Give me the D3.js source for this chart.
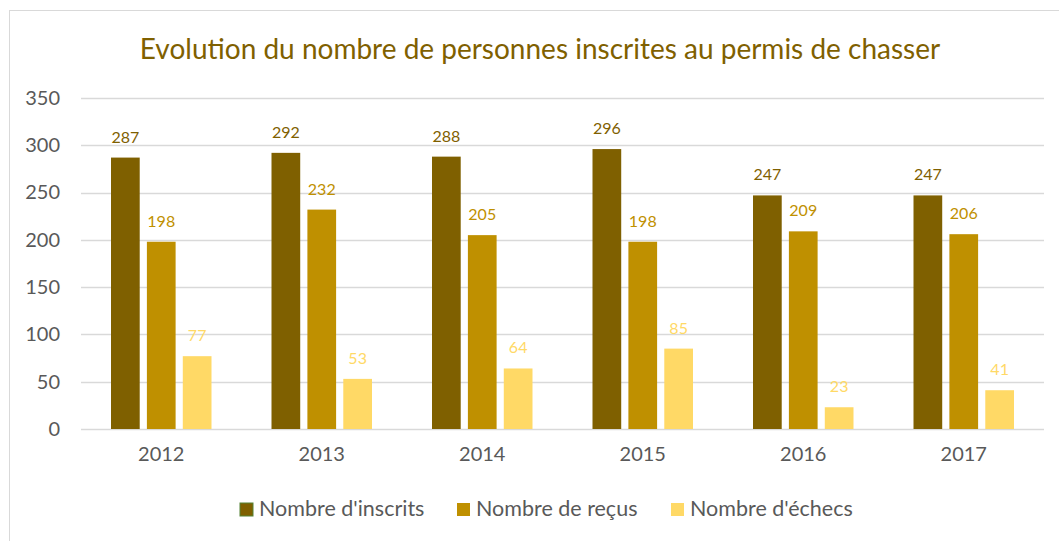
<!DOCTYPE html>
<html lang="fr">
<head>
<meta charset="utf-8">
<title>Permis de chasser</title>
<script src="https://cdn.jsdelivr.net/npm/d3@7"></script>
<style>
  body { margin: 0; background: #fff; }
  text { font-family: Lato, "Open Sans", sans-serif; }
</style>
</head>
<body>
<script>
// data
var years = ["2012", "2013", "2014", "2015", "2016", "2017"];
var series = ["Nombre d'inscrits", "Nombre de reçus", "Nombre d'échecs"];
var inscrits = [287, 292, 288, 296, 247, 247];
var recus = [198, 232, 205, 198, 209, 206];
var echecs = [77, 53, 64, 85, 23, 41];
var yTicks = [0, 50, 100, 150, 200, 250, 300, 350];
var colors = ["#7F6000", "#BF9000", "#FFD966"];

var values = [inscrits, recus, echecs];
var w = 1059, h = 541;

var svg = d3.select("body").append("svg")
    .attr("width", w)
    .attr("height", h);

// chart frame
svg.append("rect")
    .attr("x", 9.5).attr("y", 10.5)
    .attr("width", 1080).attr("height", 560)
    .attr("fill", "#fff")
    .attr("stroke", "#d9d9d9");

svg.append("text")
    .attr("x", 540).attr("y", 59)
    .attr("text-anchor", "middle")
    .attr("font-size", "28px")
    .attr("fill", "#7F6000")
    .text("Evolution du nombre de personnes inscrites au permis de chasser");

var x0 = d3.scaleBand().domain(years).range([81, 1044]);
var x1 = d3.scaleBand().domain(series).range([30, 130.5]).paddingInner(0.2);
var y = d3.scaleLinear().domain([0, 350]).range([429, 98]);

// gridlines
svg.append("g")
    .selectAll("line")
    .data(yTicks)
    .enter()
    .append("line")
    .attr("x1", 81).attr("x2", 1044)
    .attr("y1", function(d) { return Math.round(y(d)) + 0.5; })
    .attr("y2", function(d) { return Math.round(y(d)) + 0.5; })
    .attr("stroke", "#d9d9d9")
    .attr("stroke-width", 1.5);

// y axis
var yAxis = d3.axisLeft(y).tickValues(yTicks).tickSize(0).tickPadding(0);
svg.append("g")
    .attr("transform", "translate(60,0)")
    .call(yAxis)
    .call(function(g) {
        g.select(".domain").remove();
        g.selectAll("text")
            .attr("font-size", "20px")
            .attr("font-family", "Lato, sans-serif")
            .attr("fill", "#595959");
    });

// x axis
var xAxis = d3.axisBottom(x0).tickSize(0).tickPadding(0);
svg.append("g")
    .attr("transform", "translate(0,447)")
    .call(xAxis)
    .call(function(g) {
        g.select(".domain").remove();
        g.selectAll("text")
            .attr("font-size", "20px")
            .attr("font-family", "Lato, sans-serif")
            .attr("fill", "#595959");
    });

// bars
var groups = svg.selectAll("g.year")
    .data(years)
    .enter()
    .append("g")
    .attr("class", "year")
    .attr("transform", function(d) { return "translate(" + x0(d) + ",0)"; });

groups.selectAll("rect")
    .data(function(d, i) {
        return series.map(function(s, j) { return { s: s, v: values[j][i], c: colors[j] }; });
    })
    .enter()
    .append("rect")
    .attr("x", function(d) { return x1(d.s); })
    .attr("y", function(d) { return y(d.v); })
    .attr("width", x1.bandwidth())
    .attr("height", function(d) { return y(0) - y(d.v); })
    .attr("fill", function(d) { return d.c; });

groups.selectAll("text.lbl")
    .data(function(d, i) {
        return series.map(function(s, j) { return { s: s, v: values[j][i], c: colors[j] }; });
    })
    .enter()
    .append("text")
    .attr("class", "lbl")
    .attr("x", function(d) { return x1(d.s) + x1.bandwidth() / 2; })
    .attr("y", function(d) { return y(d.v) - 15; })
    .attr("text-anchor", "middle")
    .attr("font-size", "16px")
    .attr("fill", function(d) { return d.c; })
    .text(function(d) { return d.v; });

// legend
var legX = [240, 457, 671];
var leg = svg.selectAll("g.leg")
    .data(series)
    .enter()
    .append("g")
    .attr("class", "leg")
    .attr("transform", function(d, i) { return "translate(" + legX[i] + ",503)"; });

leg.append("rect")
    .attr("width", 13).attr("height", 13)
    .attr("fill", function(d, i) { return colors[i]; })
    .attr("stroke", function(d, i) { return i === 0 ? "#548235" : "none"; })
    .attr("stroke-width", 1);

leg.append("text")
    .attr("x", 19).attr("y", 13)
    .attr("font-size", "21.5px")
    .attr("fill", "#595959")
    .text(function(d) { return d; });
</script>
</body>
</html>
